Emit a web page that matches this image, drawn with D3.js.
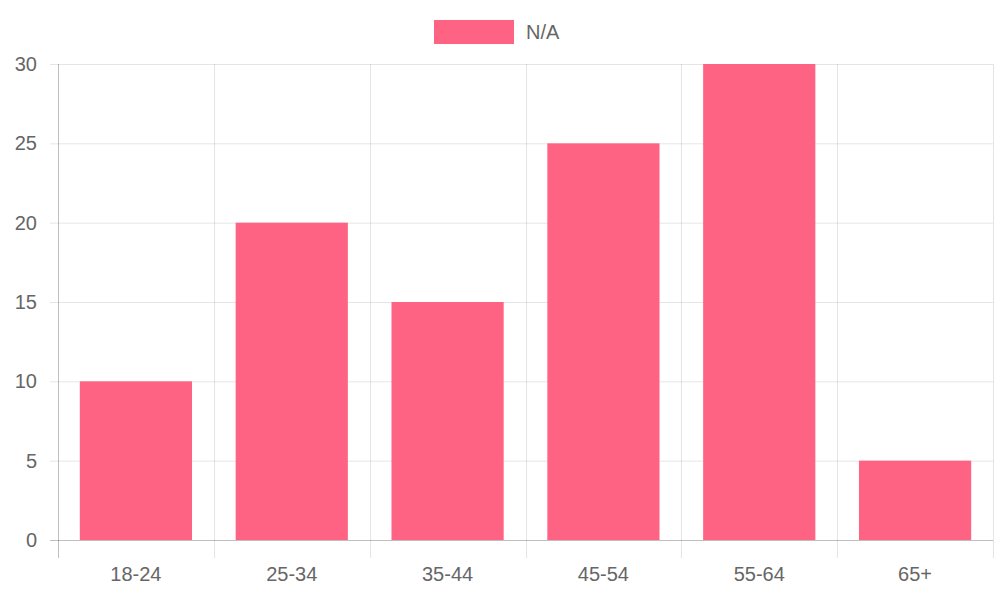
<!DOCTYPE html>
<html><head><meta charset="utf-8">
<script src="https://cdn.jsdelivr.net/npm/d3@7/dist/d3.min.js"></script>
<style>body{margin:0;background:#fff}</style></head>
<body><svg id="c" width="1000" height="600"></svg>
<script>
const categories = ["18-24","25-34","35-44","45-54","55-64","65+"];
const values = [10,20,15,25,30,5];
const yTicks = [0,5,10,15,20,25,30];
const seriesName = "N/A";

const svg = d3.select("#c");
const font = "Liberation Sans, Arial, sans-serif";
const L=58,R=993,T=64,B=540;
const x = d3.scaleBand().domain(categories).range([L,R]).paddingInner(0.28).paddingOuter(0.14);
const xb = d3.scaleBand().domain(categories).range([L,R]);
const y = d3.scaleLinear().domain([0,30]).range([B,T]);
const grid="rgba(0,0,0,0.1)";

// horizontal grid
svg.append("g").selectAll("line").data(yTicks).join("line")
 .attr("x1",L-8).attr("x2",R).attr("y1",d=>y(d)+0.5).attr("y2",d=>y(d)+0.5)
 .attr("stroke",d=>d===0?"rgba(0,0,0,0.25)":grid);
// vertical grid
const vx = categories.map(c=>xb(c)).concat([R]);
svg.append("g").selectAll("line").data(vx).join("line")
 .attr("x1",d=>Math.round(d)+0.5).attr("x2",d=>Math.round(d)+0.5).attr("y1",T).attr("y2",B+18)
 .attr("stroke",(d,i)=>i===0?"rgba(0,0,0,0.25)":grid);

svg.append("g").selectAll("rect").data(values).join("rect")
 .attr("x",(d,i)=>x(categories[i])).attr("width",x.bandwidth())
 .attr("y",d=>y(d)).attr("height",d=>B-y(d)).attr("fill","rgb(255,99,132)");

svg.append("g").selectAll("text").data(yTicks).join("text")
 .attr("x",37).attr("y",d=>y(d)).attr("dy","0.35em").attr("text-anchor","end")
 .attr("font-family",font).attr("font-size",20).attr("fill","#666").text(d=>d);
svg.append("g").selectAll("text").data(categories).join("text")
 .attr("x",d=>xb(d)+xb.bandwidth()/2).attr("y",574).attr("dy","0.35em").attr("text-anchor","middle")
 .attr("font-family",font).attr("font-size",20).attr("fill","#666").text(d=>d);

svg.append("rect").attr("x",434).attr("y",20).attr("width",80).attr("height",24).attr("fill","rgb(255,99,132)");
svg.append("text").attr("x",526).attr("y",32).attr("dy","0.35em").attr("font-family",font)
 .attr("font-size",20).attr("fill","#666").text(seriesName);
</script></body></html>
